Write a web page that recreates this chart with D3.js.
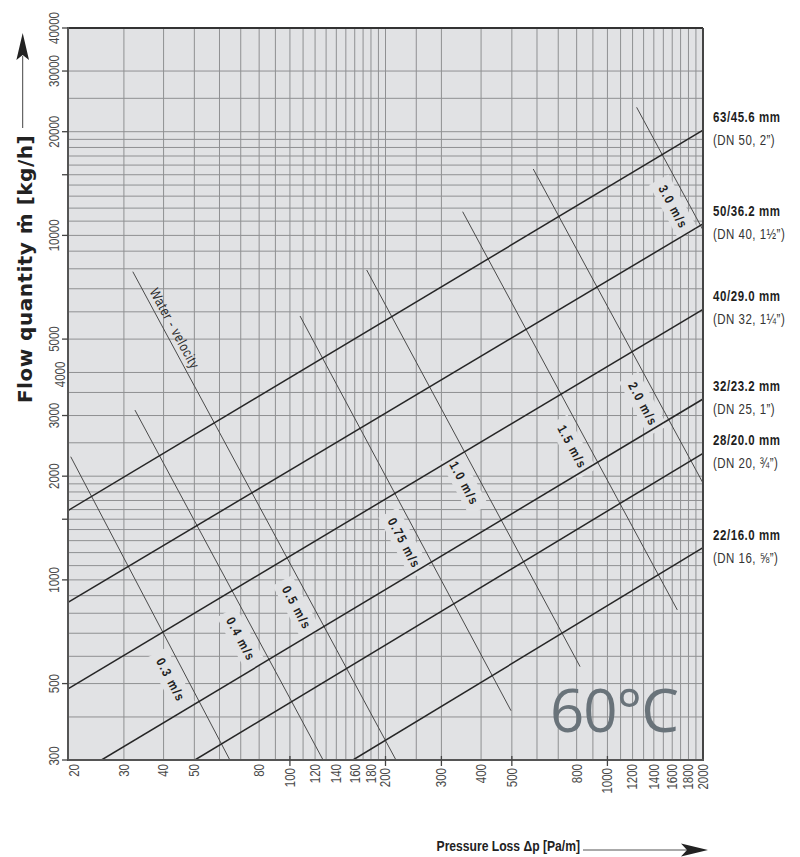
<!DOCTYPE html>
<html><head><meta charset="utf-8">
<script src="https://cdn.jsdelivr.net/npm/d3@7/dist/d3.min.js"></script>
<style>body{margin:0;background:#fff}</style>
</head><body>
<svg id="c" width="800" height="857"></svg>
<script>
// ---------- data ----------
const xGrid = [20,30,40,50,60,70,80,90,100,110,120,130,140,150,160,170,180,190,200,250,300,400,500,600,700,800,900,1000,1100,1200,1300,1400,1500,1600,1700,1800,1900,2000];
const xTickLabels = [20,30,40,50,80,100,120,140,160,180,200,300,400,500,800,1000,1200,1400,1600,1800,2000];
const xTickMarks = [100,200,300,500,1000];
const yGrid = [300,400,500,600,700,800,900,1000,1100,1200,1300,1400,1500,1600,1700,1800,1900,2000,2500,3000,3500,4000,5000,6000,7000,8000,9000,10000,11000,12000,13000,14000,15000,16000,17000,18000,19000,20000,25000,30000,40000];
const yTickLabels = [300,500,1000,2000,3000,4000,5000,10000,20000,30000,40000];
const yTickMarks = [300,500,1000,1500,2000,3000,5000,10000,15000,20000,30000,40000];

const pipeNames = ["63/45.6 mm","50/36.2 mm","40/29.0 mm","32/23.2 mm","28/20.0 mm","22/16.0 mm"];
const pipeSizes = ["(DN 50, 2\u201D)","(DN 40, 1\u00BD\u201D)","(DN 32, 1\u00BC\u201D)","(DN 25, 1\u201D)","(DN 20, \u00BE\u201D)","(DN 16, \u215D\u201D)"];
const pipeStartDp   = [20, 20, 20, 25.5, 50.2, 158];
const pipeStartFlow = [1590, 860, 483, 300, 300, 300];
const pipeEndDp     = [2000, 2000, 2000, 2000, 2000, 2000];
const pipeEndFlow   = [20200, 10800, 6100, 3350, 2330, 1240];

const velocityLabels = ["0.3 m/s","0.4 m/s","0.5 m/s","0.75 m/s","1.0 m/s","1.5 m/s","2.0 m/s","3.0 m/s"];
const velStartDp   = [20.4, 32.5, 32.0, 107.6, 174.5, 350, 584, 1236];
const velStartFlow = [2278, 3111, 7846, 5835, 7935, 11715, 15586, 23540];
const velEndDp     = [64.7, 127.2, 215.8, 497, 820, 1660, 2000, 2000];
const velEndFlow   = [300, 300, 300, 417, 560, 818, 1910, 10365];
const velLabelFlow = [537, 706, 871, 1341, 2000, 2552, 3397, 12690];
const waterLabel = "Water - velocity";
const waterLabelLine = 2;
const waterLabelFlow = 5200;

const tempLabel = "60\u00B0C";
const xTitle = "Pressure Loss \u0394p [Pa/m]";
const yTitle = "Flow quantity \u1E41 [kg/h]";

// ---------- layout ----------
const L = 68, R = 703, T = 28, B = 760;
const bg = "#e1e2e4";
const sans = "'Liberation Sans',Arial,sans-serif";
const NX = 0.82; // horizontal squeeze to imitate a condensed face

const x = d3.scaleLog().domain([20, 2000]).range([L, R]);
const y = d3.scaleLog().domain([300, 40000]).range([B, T]);

const svg = d3.select("#c");
const defs = svg.append("defs");
defs.append("clipPath").attr("id","plot").append("rect")
  .attr("x", L).attr("y", T).attr("width", R - L).attr("height", B - T);

svg.append("rect").attr("x", L).attr("y", T).attr("width", R - L).attr("height", B - T).attr("fill", bg);

const grid = svg.append("g").attr("stroke", "#8f9092").attr("stroke-width", 1);
grid.selectAll("line.v").data(xGrid).join("line").attr("class","v")
  .attr("x1", d => x(d)).attr("x2", d => x(d)).attr("y1", T).attr("y2", B);
grid.selectAll("line.h").data(yGrid).join("line").attr("class","h")
  .attr("y1", d => y(d)).attr("y2", d => y(d)).attr("x1", L).attr("x2", R);

const boxLayer = svg.append("g");
const lineLayer = svg.append("g").attr("clip-path", "url(#plot)");
const textLayer = svg.append("g");

// "60°C"
svg.append("text").attr("x", 550).attr("y", 732)
  .attr("font-family", "'Open Sans','Noto Sans',sans-serif").attr("font-size", 60)
  .attr("letter-spacing", -1).attr("fill", "#69737a").text(tempLabel);

// velocity lines
velocityLabels.forEach((lab, i) => {
  const x0 = x(velStartDp[i]), y0 = y(velStartFlow[i]);
  const x1 = x(velEndDp[i]), y1 = y(velEndFlow[i]);
  lineLayer.append("line").attr("x1", x0).attr("y1", y0).attr("x2", x1).attr("y2", y1)
    .attr("stroke", "#4a4a4a").attr("stroke-width", 1);
  const ang = Math.atan2(y1 - y0, x1 - x0);
  const deg = ang * 180 / Math.PI;
  const ux = Math.cos(ang), uy = Math.sin(ang);
  const py = y(velLabelFlow[i]);
  const t = (py - y0) / (y1 - y0);
  const px = x0 + t * (x1 - x0);
  const cx = px - 15 * uy, cy = py + 15 * ux;
  const tr = `translate(${cx},${cy}) rotate(${deg})`;
  const txt = textLayer.append("text").attr("transform", tr + " scale(0.85,1)")
    .attr("text-anchor", "middle").attr("dy", "0.36em")
    .attr("font-family", sans).attr("font-weight", "bold")
    .attr("font-size", 13).attr("letter-spacing", 1.7).attr("fill", "#1e1e1e").text(lab);
  const w = txt.node().getComputedTextLength() * 0.85 + 14;
  boxLayer.append("rect").attr("transform", tr)
    .attr("x", -w / 2).attr("y", -11).attr("width", w).attr("height", 22).attr("fill", bg);
  if (i === waterLabelLine) {
    const wy = y(waterLabelFlow);
    const wt = (wy - y0) / (y1 - y0);
    const wx = x0 + wt * (x1 - x0);
    const trw = `translate(${wx + 10 * uy},${wy - 10 * ux}) rotate(${deg}) scale(${NX},1)`;
    textLayer.append("text").attr("transform", trw)
      .attr("text-anchor", "middle").attr("dy", "0.35em")
      .attr("font-family", sans).attr("font-size", 14).attr("letter-spacing", 0.8)
      .attr("fill", "#2a2a2a").text(waterLabel);
  }
});

// pipe lines
pipeNames.forEach((name, i) => {
  lineLayer.append("line")
    .attr("x1", x(pipeStartDp[i])).attr("y1", y(pipeStartFlow[i]))
    .attr("x2", x(pipeEndDp[i])).attr("y2", y(pipeEndFlow[i]))
    .attr("stroke", "#262626").attr("stroke-width", 1.5);
  const ey = y(pipeEndFlow[i]);
  svg.append("text").attr("transform", `translate(${R + 10},${ey - 8}) scale(${NX},1)`)
    .attr("font-family", sans).attr("font-weight", "bold").attr("font-size", 14)
    .attr("letter-spacing", 0.7).attr("fill", "#1e1e1e").text(name);
  svg.append("text").attr("transform", `translate(${R + 10},${ey + 15}) scale(${NX},1)`)
    .attr("font-family", sans).attr("font-size", 14)
    .attr("letter-spacing", 0.6).attr("fill", "#333").text(pipeSizes[i]);
});

// frame
const frame = svg.append("g").attr("fill", "none");
frame.append("line").attr("x1", L).attr("x2", R).attr("y1", T).attr("y2", T).attr("stroke", "#333").attr("stroke-width", 2);
frame.append("line").attr("x1", R).attr("x2", R).attr("y1", T).attr("y2", B).attr("stroke", "#444").attr("stroke-width", 2);
frame.append("line").attr("x1", L).attr("x2", L).attr("y1", T - 1).attr("y2", B + 1).attr("stroke", "#555").attr("stroke-width", 2);
frame.append("line").attr("x1", L - 1).attr("x2", R + 1).attr("y1", B).attr("y2", B).attr("stroke", "#555").attr("stroke-width", 2);

// ticks
svg.append("g").selectAll("line").data(yTickMarks).join("line")
  .attr("x1", L - 6).attr("x2", L).attr("y1", d => y(d)).attr("y2", d => y(d))
  .attr("stroke", "#444").attr("stroke-width", 1.3);
svg.append("g").selectAll("line").data(xTickMarks).join("line")
  .attr("y1", B - 4).attr("y2", B + 6).attr("x1", d => x(d)).attr("x2", d => x(d))
  .attr("stroke", "#444").attr("stroke-width", 1.3);

// tick labels
const fmt = d => String(d);
svg.append("g").selectAll("text").data(yTickLabels).join("text")
  .attr("transform", d => {
    let cx = 58.5, cy = y(d);
    if (d === 4000) { cx = 65; cy += 2; }
    if (d === 300) cy -= 4;
    return `translate(${cx},${cy}) rotate(-90) scale(${NX},1)`;
  })
  .attr("text-anchor", "middle").attr("font-family", sans).attr("font-size", 14)
  .attr("fill", "#4a4a4a").text(fmt);
svg.append("g").selectAll("text").data(xTickLabels).join("text")
  .attr("transform", d => {
    let cx = x(d);
    if (d === 20) cx += 6;
    const ty = xTickMarks.includes(d) ? B + 8 : B + 4;
    return `translate(${cx},${ty}) rotate(-90) scale(${NX},1)`;
  })
  .attr("text-anchor", "end").attr("dy", "0.35em").attr("font-family", sans).attr("font-size", 14)
  .attr("fill", "#4a4a4a").text(fmt);

// axis titles
svg.append("text").attr("transform", `translate(31.5,269) rotate(-90)`)
  .attr("text-anchor", "middle").attr("font-family", "'DejaVu Sans',Verdana,sans-serif")
  .attr("font-weight", "bold").attr("font-size", 20).attr("letter-spacing", 0.5)
  .attr("fill", "#222").text(yTitle);
svg.append("line").attr("x1", 22.7).attr("x2", 22.7).attr("y1", 128).attr("y2", 56)
  .attr("stroke", "#444").attr("stroke-width", 1);
svg.append("path").attr("d", "M22.7,33 L29,60 L22.7,55 L16.4,60 Z").attr("fill", "#222");

svg.append("text").attr("transform", `translate(580,851) scale(${NX},1)`).attr("text-anchor", "end")
  .attr("font-family", sans).attr("font-weight", "bold").attr("font-size", 14.8)
  .attr("fill", "#222").text(xTitle);
svg.append("line").attr("x1", 583).attr("x2", 690).attr("y1", 850).attr("y2", 850)
  .attr("stroke", "#555").attr("stroke-width", 1);
svg.append("path").attr("d", "M708,850 L681,843.5 L687,850 L681,856.5 Z").attr("fill", "#222");
</script>
</body></html>
